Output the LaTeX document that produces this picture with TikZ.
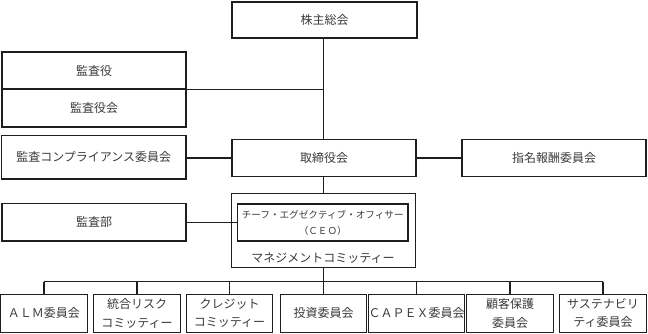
\documentclass[tikz,border=0pt]{standalone}
\usepackage{fontspec}
\newfontfamily\jp{Noto Sans CJK JP}
\definecolor{linec}{HTML}{1E1E1E}
\definecolor{textc}{HTML}{3A3A3A}
\begin{document}
\begin{tikzpicture}[x=1pt,y=-1pt,
  box/.style={draw=linec, line width=1.1pt, inner sep=0pt, align=center,
    font=\jp\fontsize{12}{18.5}\selectfont, text=textc},
  sbox/.style={box, minimum width=86.5pt, minimum height=37.7pt},
  conn/.style={draw=linec, line width=1.1pt}]
\useasboundingbox (0,0) rectangle (648,333);
% top
\node[box, minimum width=185pt, minimum height=36pt] (kabu) at (324.5,20) {株主総会};
\node[box, minimum width=184pt, minimum height=37pt] (yaku) at (94,70.5) {監査役};
\node[box, minimum width=184pt, minimum height=38pt] (yakukai) at (94,108) {監査役会};
\node[box, minimum width=184.5pt, minimum height=43.5pt] (comp) at (93.75,157.25) {監査コンプライアンス委員会};
\node[box, minimum width=184pt, minimum height=37pt] (tori) at (324,158) {取締役会};
\node[box, minimum width=184pt, minimum height=37pt] (shimei) at (554,158) {指名報酬委員会};
\node[box, minimum width=184pt, minimum height=37.5pt] (kansabu) at (94,222.25) {監査部};
% management committee
\node[box, minimum width=183.5pt, minimum height=74pt] (mgmt) at (323.5,230.5) {};
\node[box, minimum width=170.5pt, minimum height=37pt, font=\jp\fontsize{9.6}{15.7}\selectfont] (ceo) at (322.75,222.5) {チーフ・エグゼクティブ・オフィサー\\（ＣＥＯ）};
\node[font=\jp\fontsize{12}{14}\selectfont, text=textc, inner sep=0pt] (mgmtlabel) at (323,258.3) {マネジメントコミッティー};
% bottom committees
\node[sbox] (b1) at (44,313.2) {ＡＬＭ委員会};
\node[sbox] (b2) at (137,313.2) {統合リスク\\コミッティー};
\node[sbox] (b3) at (229.5,313.2) {クレジット\\コミッティー};
\node[sbox] (b4) at (323.5,313.2) {投資委員会};
\node[sbox] (b5) at (416.5,313.2) {ＣＡＰＥＸ委員会};
\node[sbox] (b6) at (510,313.2) {顧客保護\\委員会};
\node[sbox] (b7) at (603,313.2) {サステナビリ\\ティ委員会};
\coordinate (bus) at (323.5,281.7);
% connectors
\draw[conn] (kabu.south -| mgmt.north) -- (tori.north -| mgmt.north);
\draw[conn] (yaku.south east) -- (yaku.south east -| mgmt.north);
\draw[conn] (comp.east |- tori.west) -- (tori.west);
\draw[conn] (tori.east) -- (shimei.west);
\draw[conn] (tori.south -| mgmt.north) -- (mgmt.north);
\draw[conn] (kansabu.east) -- (kansabu.east -| ceo.west);
\draw[conn] (mgmt.south) -- (bus);
\draw[conn] (b1.north |- bus) -- (b7.north |- bus);
\foreach \b in {b1,b2,b3,b4,b5,b6,b7}
  \draw[conn] (\b.north |- bus) -- (\b.north);
\end{tikzpicture}
\end{document}
